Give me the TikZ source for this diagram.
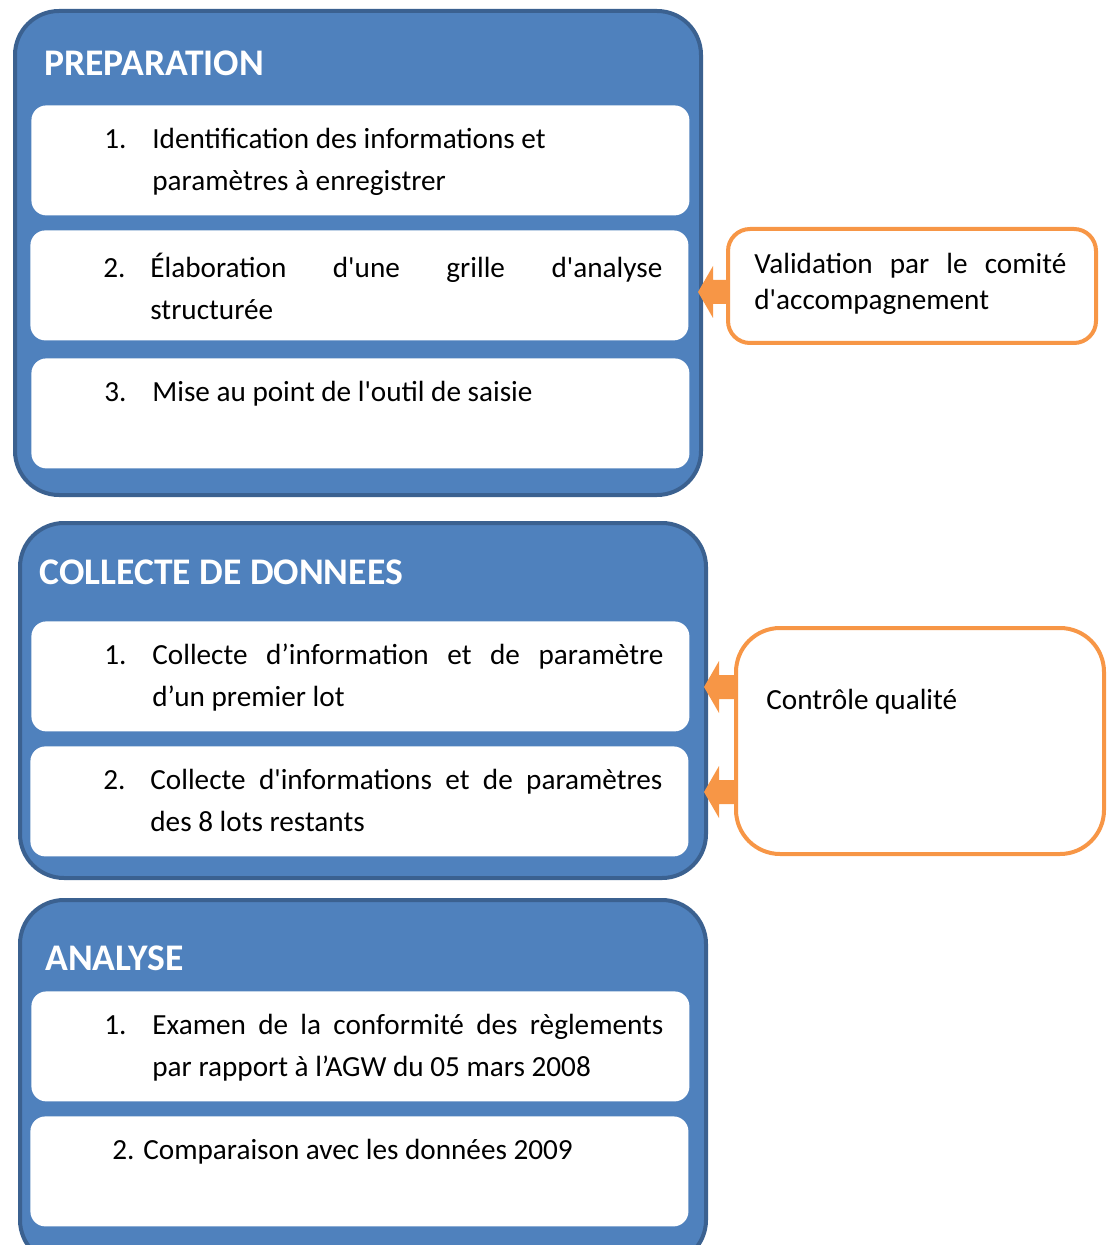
\documentclass[tikz,border=0pt]{standalone}
\usepackage{fontspec}
\setmainfont{Carlito}
\usetikzlibrary{positioning,calc}
\definecolor{boxblue}{HTML}{4F81BD}
\definecolor{boxline}{HTML}{3B6190}
\definecolor{orangeline}{HTML}{F79646}

\begin{document}
\begin{tikzpicture}[x=0.5pt,y=-0.5pt,
    phase/.style={draw=boxline,line width=2pt,fill=boxblue,rounded corners=22pt,
      anchor=north west,inner sep=0pt,minimum width=343pt},
    title/.style={anchor=west,inner sep=0pt,text=white,
      font=\fontsize{18.8}{22}\selectfont\bfseries},
    item/.style={fill=white,rounded corners=7.5pt,anchor=north west,inner sep=0pt,
      minimum width=329pt,minimum height=55pt},
    itemtext/.style={anchor=north west,inner sep=0pt,align=left,
      font=\fontsize{14.6}{21}\selectfont},
    note/.style={draw=orangeline,line width=2pt,fill=white,anchor=north west,inner sep=0pt},
    arrowfill/.style={fill=orangeline}]
    \useasboundingbox (0,0) rectangle (1108,1245);
    \clip (0,0) rectangle (1108,1245);

    % Phase 1
    \node[phase,minimum height=242pt] (prep) at (13,9) {};
    \node[title] (prept) at (44,63) {PREPARATION};
    \node[item] (p1) at (31,105) {};
    \node[item] (p2) at (30,230) {};
    \node[item] (p3) at (31,358) {};
    \node[itemtext] (p1t) at (104,128) {\makebox[24pt][l]{1.}\parbox[t]{255.5pt}{%
      Identification des informations et\newline paramètres à enregistrer}};
    \node[itemtext] (p2t) at (103,253) {\makebox[23.5pt][l]{2.}\parbox[t]{256pt}{%
      Élaboration d\textquotesingle une grille d\textquotesingle analyse\linebreak structurée}};
    \node[itemtext] (p3t) at (104,381) {\makebox[24pt][l]{3.}\parbox[t]{255.5pt}{%
      Mise au point de l\textquotesingle outil de saisie}};

    % Phase 2
    \node[phase,minimum height=177.5pt] (coll) at (18,521) {};
    \node[title] (collt) at (39,572) {COLLECTE DE DONNEES};
    \node[item] (c1) at (31,621) {};
    \node[item] (c2) at (30,746) {};
    \node[itemtext] (c1t) at (104,644) {\makebox[24pt][l]{1.}\parbox[t]{255.5pt}{%
      Collecte d’information et de paramètre\linebreak d’un premier lot}};
    \node[itemtext] (c2t) at (103,769) {\makebox[23.5pt][l]{2.}\parbox[t]{256pt}{%
      Collecte d\textquotesingle informations et de paramètres\linebreak des 8 lots restants}};

    % Phase 3
    \node[phase,minimum height=182pt] (anal) at (18,898) {};
    \node[title] (analt) at (45,958) {ANALYSE};
    \node[item] (a1) at (31,991) {};
    \node[item] (a2) at (30,1116) {};
    \node[itemtext] (a1t) at (104,1014) {\makebox[24pt][l]{1.}\parbox[t]{255.5pt}{%
      Examen de la conformité des règlements\linebreak par rapport à l’AGW du 05 mars 2008}};
    \node[itemtext] (a2t) at (112,1139) {2. Comparaison avec les données 2009};

    % Block arrows
    \coordinate (tip1) at (698,292);
    \coordinate (tip2) at (704,687);
    \coordinate (tip3) at (704,792);
    \coordinate (src1) at (727,292);
    \coordinate (src2) at (735,687);
    \coordinate (src3) at (735,792);
    \foreach \i in {1,2,3} {
        \fill[arrowfill] (tip\i) -- ++(15,-26) -- ++(0,14) -- ($(src\i)+(0,-12)$) -- ++(0,24)
            -- ($(tip\i)+(15,12)$) -- ++(0,14) -- cycle;
    }

    % Side boxes
    \node[note,rounded corners=11pt,minimum width=184pt,minimum height=57pt] (valid) at (726,227) {};
    \node[anchor=north west,inner sep=0pt,align=left,font=\fontsize{14.6}{18}\selectfont]
      (validt) at (754,253) {\parbox[t]{156pt}{%
      Validation par le comité\linebreak d\textquotesingle accompagnement}};
    \node[note,rounded corners=22pt,minimum width=184pt,minimum height=113pt] (ctrl) at (734,626) {};
    \node[anchor=west,inner sep=0pt,font=\fontsize{14.6}{18}\selectfont] (ctrlt) at (766,702) {Contrôle qualité};
\end{tikzpicture}
\end{document}
